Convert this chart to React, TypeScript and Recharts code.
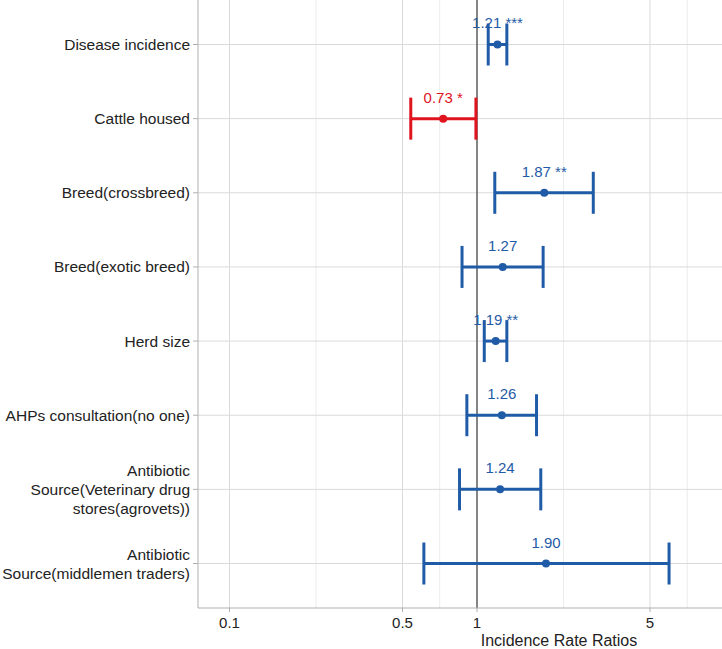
import { ScatterChart, Scatter, XAxis, YAxis, ErrorBar, ReferenceLine } from "recharts";

const factors = [
  "Disease incidence",
  "Cattle housed",
  "Breed(crossbreed)",
  "Breed(exotic breed)",
  "Herd size",
  "AHPs consultation(no one)",
  "Antibiotic\nSource(Veterinary drug\nstores(agrovets))",
  "Antibiotic\nSource(middlemen traders)",
];
const irr = [1.21, 0.73, 1.87, 1.27, 1.19, 1.26, 1.24, 1.9];
const lower = [1.11, 0.54, 1.18, 0.87, 1.07, 0.91, 0.85, 0.61];
const upper = [1.32, 0.99, 2.95, 1.85, 1.32, 1.74, 1.81, 5.97];
const stars = ["***", "*", "**", "", "**", "", "", ""];

const xTicks = [0.1, 0.5, 1, 5];
const minorX = [0.2236, 0.7071, 2.236, 7.071];
const rowPos = [1, 2, 3, 4, 5, 6, 7, 8];

const BLUE = "#1f5ba6";
const RED = "#e0141e";
const FONT = "'Liberation Sans', Arial, sans-serif";

const rows = factors.map((f, i) => ({
  name: f,
  pos: rowPos[i],
  irr: irr[i],
  err: [irr[i] - lower[i], upper[i] - irr[i]],
  label: irr[i].toFixed(2) + (stars[i] ? " " + stars[i] : ""),
  color: upper[i] < 1 ? RED : BLUE,
}));
const blueRows = rows.filter(r => r.color === BLUE);
const redRows = rows.filter(r => r.color === RED);

const RowTick = ({ x, y, payload }: any) => {
  const lines = factors[payload.value - 1].split("\n");
  const lh = 19;
  return (
    <text x={x} y={y} textAnchor="end" fontSize={15.5} fill="#222" fontFamily={FONT}>
      {lines.map((l, i) => (
        <tspan key={i} x={x} y={y + (i - (lines.length - 1) / 2) * lh + 5.5}>
          {l}
        </tspan>
      ))}
    </text>
  );
};

const Dot = ({ cx, cy, fill }: any) => <circle cx={cx} cy={cy} r={4} fill={fill} />;

const ValueLabel = ({ cx, cy, payload }: any) => (
  <text x={cx} y={cy - 16} textAnchor="middle" fontSize={15} fill={payload.color} fontFamily={FONT}>
    {payload.label}
  </text>
);

export default function App() {
  return (
    <div style={{ position: "fixed", top: 0, left: 0, width: 722, height: 649, overflow: "hidden", background: "#fff" }}>
      <ScatterChart width={722} height={649} margin={{ top: 0, right: 0, bottom: 0, left: 0 }} style={{ fontFamily: FONT }}>
        <XAxis
          type="number"
          dataKey="irr"
          scale="log"
          domain={[0.0746, 9.77]}
          allowDataOverflow
          ticks={xTicks}
          tickFormatter={(v: number) => String(v)}
          height={41}
          tickSize={4}
          tickMargin={5}
          stroke="#b0b0b0"
          tick={{ fill: "#222", fontSize: 15 }}
          label={{ value: "Incidence Rate Ratios", position: "insideBottom", offset: 3, dx: 99, fill: "#222", fontSize: 16 }}
        />
        <YAxis
          type="number"
          dataKey="pos"
          domain={[0.4, 8.6]}
          reversed
          allowDataOverflow
          ticks={rowPos}
          interval={0}
          width={198}
          tickSize={5}
          tickMargin={3}
          stroke="#b0b0b0"
          tick={<RowTick />}
        />
        {minorX.map(v => (
          <ReferenceLine key={"m" + v} x={v} stroke="#ececec" strokeWidth={1} />
        ))}
        {xTicks.filter(v => v !== 1).map(v => (
          <ReferenceLine key={"M" + v} x={v} stroke="#dadada" strokeWidth={1} />
        ))}
        {rowPos.map(v => (
          <ReferenceLine key={"h" + v} y={v} stroke="#dadada" strokeWidth={1} />
        ))}
        <ReferenceLine x={1} stroke="#5c5c5c" strokeWidth={1.5} />
        <Scatter data={rows} shape={<ValueLabel />} isAnimationActive={false} legendType="none" />
        <Scatter data={blueRows} fill={BLUE} shape={<Dot />} isAnimationActive={false}>
          <ErrorBar dataKey="err" direction="x" width={21} stroke={BLUE} strokeWidth={3} isAnimationActive={false} />
        </Scatter>
        <Scatter data={redRows} fill={RED} shape={<Dot />} isAnimationActive={false}>
          <ErrorBar dataKey="err" direction="x" width={21} stroke={RED} strokeWidth={3} isAnimationActive={false} />
        </Scatter>
      </ScatterChart>
    </div>
  );
}
